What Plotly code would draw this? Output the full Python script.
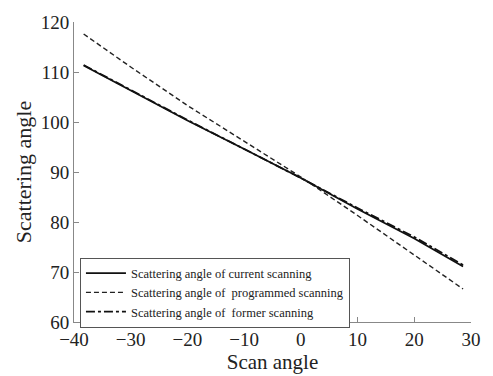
import plotly.graph_objects as go

scan_angle = [-38.3, -30, -20, -10, 0, 10, 20, 28.6]
current = [111.3, 106.3, 100.3, 94.6, 88.8, 82.6, 76.7, 71.1]
programmed = [117.6, 111.0, 103.3, 96.2, 89.0, 81.3, 73.4, 66.6]
former = [111.4, 106.4, 100.4, 94.6, 88.8, 82.8, 77.0, 71.4]

names = ["Scattering angle of current scanning",
         "Scattering angle of  programmed scanning",
         "Scattering angle of  former scanning"]

font = "Liberation Serif, Times New Roman, serif"
fig = go.Figure()
fig.add_trace(go.Scatter(x=scan_angle, y=current, mode="lines", name=names[0],
                         line=dict(color="#111", width=1.8, dash="solid")))
fig.add_trace(go.Scatter(x=scan_angle, y=programmed, mode="lines", name=names[1],
                         line=dict(color="#222", width=1.4, dash="5px,3px")))
fig.add_trace(go.Scatter(x=scan_angle, y=former, mode="lines", name=names[2],
                         line=dict(color="#111", width=1.8, dash="dashdot")))

axis_common = dict(showline=True, linecolor="#888", linewidth=1, ticks="inside",
                   ticklen=5, tickcolor="#888", showgrid=False, zeroline=False,
                   mirror=False, tickfont=dict(family=font, size=19, color="#222"))
fig.update_layout(
    width=493, height=376,
    margin=dict(l=74, r=15, t=16, b=43),
    paper_bgcolor="white", plot_bgcolor="white",
    font=dict(family=font, color="#222"),
    xaxis=dict(range=[-40, 30], dtick=10, tick0=-40,
               title=dict(text="Scan angle", font=dict(family=font, size=21), standoff=0),
               **axis_common),
    yaxis=dict(range=[60, 120], dtick=10, tick0=60,
               title=dict(text="Scattering angle", font=dict(family=font, size=22), standoff=3),
               **axis_common),
    legend=dict(x=0.015, y=0.215, xanchor="left", yanchor="top",
                bordercolor="#555", borderwidth=1, bgcolor="white",
                font=dict(family=font, size=12.5, color="#222"),
                tracegroupgap=0, itemwidth=40),
    showlegend=True,
)
fig.write_html("out.html")
